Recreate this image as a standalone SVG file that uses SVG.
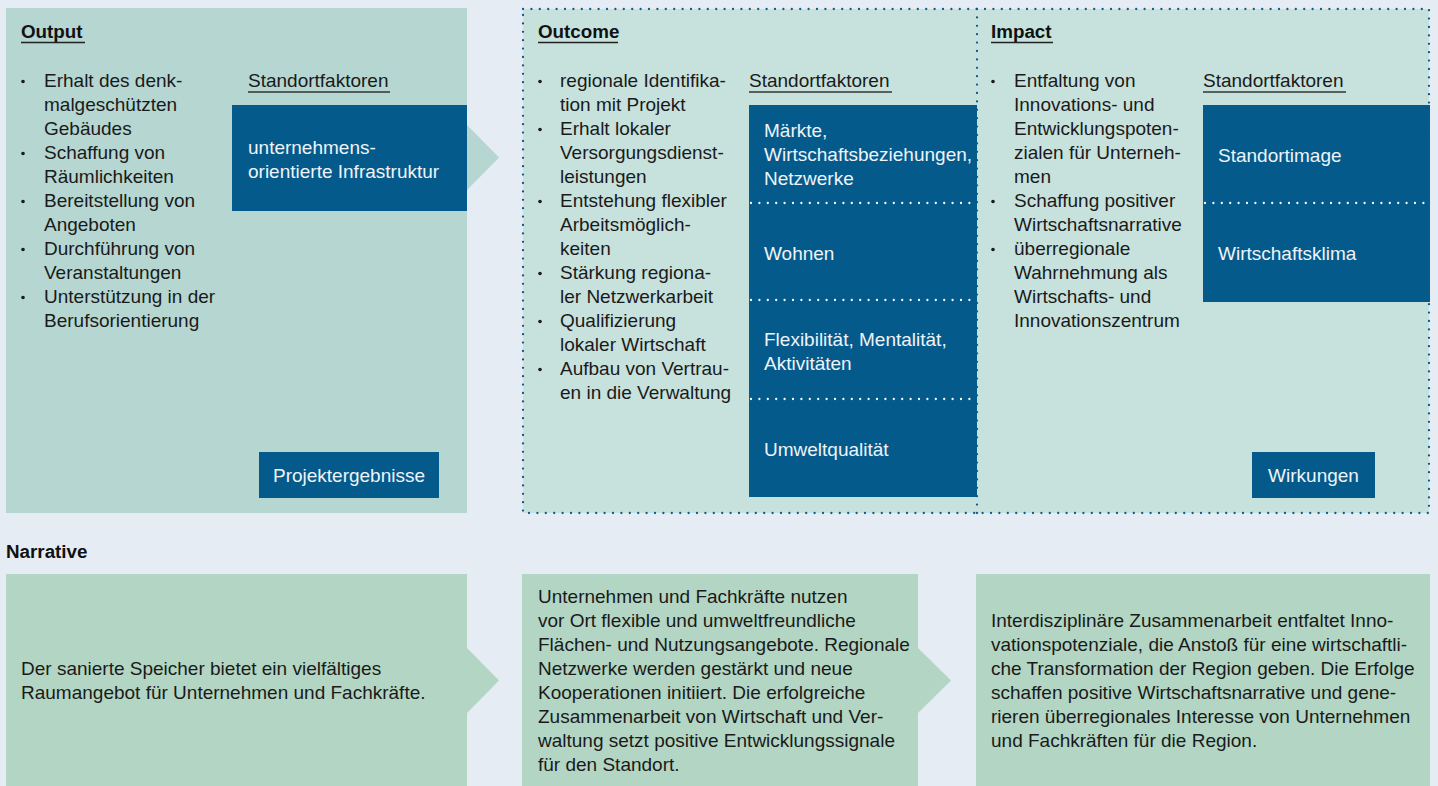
<svg xmlns="http://www.w3.org/2000/svg" width="1438" height="786" viewBox="0 0 1438 786">
<style>
.t{font-family:"Liberation Sans",Arial,sans-serif;font-size:19px;fill:#1a1a1a}
.w{font-family:"Liberation Sans",Arial,sans-serif;font-size:19px;fill:#eef4f8}
.h{font-family:"Liberation Sans",Arial,sans-serif;font-size:18.8px;font-weight:bold;fill:#111}
.ul{stroke:#222;stroke-width:1.6}
.ul2{stroke:#333;stroke-width:1.3}
.dark{fill:#055a8c}
.b{fill:#1a1a1a}
.dotb{stroke:#0b5a8e;stroke-width:2.3;stroke-dasharray:0 8.4;stroke-linecap:round;fill:none}
.dotw{stroke:#ffffff;stroke-width:2.3;stroke-dasharray:0 8.4;stroke-linecap:round;fill:none}
</style>
<rect x="0" y="0" width="1438" height="786" fill="#e5ecf3"/>

<g id="output">
  <rect x="6" y="8" width="461" height="505" fill="#b5d6d1"/>
  <text class="h" x="21" y="38">Output</text>
  <line class="ul" x1="21" y1="42.5" x2="85" y2="42.5"/>
  <text class="t" x="248" y="87">Standortfaktoren</text>
  <line class="ul2" x1="248" y1="92" x2="390" y2="92"/>
  <rect class="dark" x="232" y="105" width="235" height="106"/>
  <text class="w" x="248" y="154">unternehmens-<tspan x="248" dy="24">orientierte Infrastruktur</tspan></text>
  <g class="b"><circle cx="23" cy="81.5" r="1.8"/><circle cx="23" cy="153.5" r="1.8"/><circle cx="23" cy="201.5" r="1.8"/><circle cx="23" cy="249.5" r="1.8"/><circle cx="23" cy="297.5" r="1.8"/></g>
  <text class="t" x="44" y="87">Erhalt des denk-<tspan x="44" dy="24">malgeschützten</tspan><tspan x="44" dy="24">Gebäudes</tspan><tspan x="44" dy="24">Schaffung von</tspan><tspan x="44" dy="24">Räumlichkeiten</tspan><tspan x="44" dy="24">Bereitstellung von</tspan><tspan x="44" dy="24">Angeboten</tspan><tspan x="44" dy="24">Durchführung von</tspan><tspan x="44" dy="24">Veranstaltungen</tspan><tspan x="44" dy="24">Unterstützung in der</tspan><tspan x="44" dy="24">Berufsorientierung</tspan></text>
  <rect class="dark" x="259" y="452" width="180" height="46"/>
  <text class="w" x="349" y="482" text-anchor="middle">Projektergebnisse</text>
</g>

<g id="outcome">
  <rect x="523" y="9" width="454" height="504" fill="#c7e1dd"/>
  <text class="h" x="538" y="38">Outcome</text>
  <line class="ul" x1="538" y1="42.5" x2="618" y2="42.5"/>
  <text class="t" x="749" y="87">Standortfaktoren</text>
  <line class="ul2" x1="749" y1="92" x2="892" y2="92"/>
  <g class="b"><circle cx="540" cy="81.5" r="1.8"/><circle cx="540" cy="129.5" r="1.8"/><circle cx="540" cy="201.5" r="1.8"/><circle cx="540" cy="273.5" r="1.8"/><circle cx="540" cy="321.5" r="1.8"/><circle cx="540" cy="369.5" r="1.8"/></g>
  <text class="t" x="560" y="87">regionale Identifika-<tspan x="560" dy="24">tion mit Projekt</tspan><tspan x="560" dy="24">Erhalt lokaler</tspan><tspan x="560" dy="24">Versorgungsdienst-</tspan><tspan x="560" dy="24">leistungen</tspan><tspan x="560" dy="24">Entstehung flexibler</tspan><tspan x="560" dy="24">Arbeitsmöglich-</tspan><tspan x="560" dy="24">keiten</tspan><tspan x="560" dy="24">Stärkung regiona-</tspan><tspan x="560" dy="24">ler Netzwerkarbeit</tspan><tspan x="560" dy="24">Qualifizierung</tspan><tspan x="560" dy="24">lokaler Wirtschaft</tspan><tspan x="560" dy="24">Aufbau von Vertrau-</tspan><tspan x="560" dy="24">en in die Verwaltung</tspan></text>
  <rect class="dark" x="749" y="105" width="228" height="392"/>
  <text class="w" x="764" y="137">Märkte,<tspan x="764" dy="24">Wirtschaftsbeziehungen,</tspan><tspan x="764" dy="24">Netzwerke</tspan></text>
  <text class="w" x="764" y="260">Wohnen</text>
  <text class="w" x="764" y="346">Flexibilität, Mentalität,<tspan x="764" dy="24">Aktivitäten</tspan></text>
  <text class="w" x="764" y="456">Umweltqualität</text>
  <path class="dotw" d="M751 203H977M751 300H977M751 399H977"/>
</g>

<g id="impact">
  <rect x="977" y="9" width="452" height="504" fill="#c7e1dd"/>
  <text class="h" x="991" y="38">Impact</text>
  <line class="ul" x1="991" y1="42.5" x2="1053" y2="42.5"/>
  <text class="t" x="1203" y="87">Standortfaktoren</text>
  <line class="ul2" x1="1203" y1="92" x2="1346" y2="92"/>
  <g class="b"><circle cx="993" cy="81.5" r="1.8"/><circle cx="993" cy="201.5" r="1.8"/><circle cx="993" cy="249.5" r="1.8"/></g>
  <text class="t" x="1014" y="87">Entfaltung von<tspan x="1014" dy="24">Innovations- und</tspan><tspan x="1014" dy="24">Entwicklungspoten-</tspan><tspan x="1014" dy="24">zialen für Unterneh-</tspan><tspan x="1014" dy="24">men</tspan><tspan x="1014" dy="24">Schaffung positiver</tspan><tspan x="1014" dy="24">Wirtschaftsnarrative</tspan><tspan x="1014" dy="24">überregionale</tspan><tspan x="1014" dy="24">Wahrnehmung als</tspan><tspan x="1014" dy="24">Wirtschafts- und</tspan><tspan x="1014" dy="24">Innovationszentrum</tspan></text>
  <rect class="dark" x="1203" y="105" width="227" height="197"/>
  <text class="w" x="1218" y="162">Standortimage</text>
  <text class="w" x="1218" y="260">Wirtschaftsklima</text>
  <path class="dotw" d="M1205 203H1429"/>
  <rect class="dark" x="1252" y="452" width="123" height="46"/>
  <text class="w" x="1313.5" y="482" text-anchor="middle">Wirkungen</text>
</g>

<g id="frame">
  <rect class="dotb" x="523" y="9" width="906" height="504"/>
  <path class="dotb" d="M977 9V513"/>
</g>

<g id="narrative-label">
  <text class="h" x="6" y="558">Narrative</text>
</g>

<g id="narrative-1">
  <rect x="6" y="574" width="461" height="212" fill="#b3d5c3"/>
  <text class="t" x="21" y="675">Der sanierte Speicher bietet ein vielfältiges<tspan x="21" dy="24">Raumangebot für Unternehmen und Fachkräfte.</tspan></text>
</g>

<g id="narrative-2">
  <rect x="522" y="574" width="396" height="212" fill="#b3d5c3"/>
  <text class="t" x="538" y="603">Unternehmen und Fachkräfte nutzen<tspan x="538" dy="24">vor Ort flexible und umweltfreundliche</tspan><tspan x="538" dy="24">Flächen- und Nutzungsangebote. Regionale</tspan><tspan x="538" dy="24">Netzwerke werden gestärkt und neue</tspan><tspan x="538" dy="24">Kooperationen initiiert. Die erfolgreiche</tspan><tspan x="538" dy="24">Zusammenarbeit von Wirtschaft und Ver-</tspan><tspan x="538" dy="24">waltung setzt positive Entwicklungssignale</tspan><tspan x="538" dy="24">für den Standort.</tspan></text>
</g>

<g id="narrative-3">
  <rect x="976" y="574" width="454" height="212" fill="#b3d5c3"/>
  <text class="t" x="991" y="627">Interdisziplinäre Zusammenarbeit entfaltet Inno-<tspan x="991" dy="24">vationspotenziale, die Anstoß für eine wirtschaftli-</tspan><tspan x="991" dy="24">che Transformation der Region geben. Die Erfolge</tspan><tspan x="991" dy="24">schaffen positive Wirtschaftsnarrative und gene-</tspan><tspan x="991" dy="24">rieren überregionales Interesse von Unternehmen</tspan><tspan x="991" dy="24">und Fachkräften für die Region.</tspan></text>
</g>

<g id="connectors">
  <polygon points="467,125 499,157.5 467,190" fill="#b5d6d1"/>
  <polygon points="467,648 499,680.5 467,713" fill="#b3d5c3"/>
  <polygon points="918,648 951,680.5 918,713" fill="#b3d5c3"/>
</g>
</svg>
